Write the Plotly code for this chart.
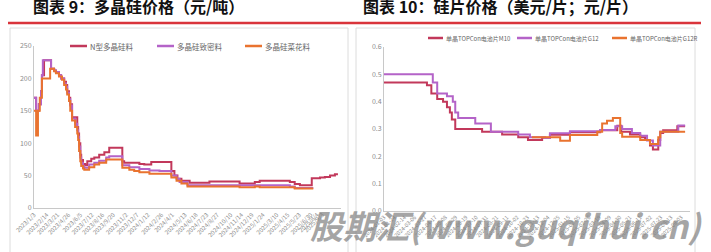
import plotly.graph_objects as go

# ---------------- Left chart: polysilicon prices ----------------
n_dates = ["2023-01-03","2023-01-10","2023-01-19","2023-01-26","2023-01-29","2023-02-05","2023-02-28",
           "2023-03-10","2023-03-16","2023-03-26","2023-04-02","2023-04-12","2023-04-18","2023-04-22",
           "2023-04-28","2023-05-02","2023-05-08","2023-05-25","2023-05-28","2023-05-31","2023-06-04",
           "2023-06-07","2023-06-13","2023-06-20","2023-06-27","2023-07-10","2023-07-20","2023-08-05",
           "2023-08-22","2023-09-07","2023-10-20","2023-10-26","2023-12-15","2023-12-31","2024-01-23",
           "2024-03-23","2024-03-29","2024-04-08","2024-04-18","2024-05-01","2024-05-28","2024-08-01",
           "2024-11-08","2024-12-28","2025-01-13","2025-04-22","2025-05-08","2025-05-25","2025-07-03",
           "2025-07-30","2025-08-15","2025-09-01","2025-09-17","2025-09-27"]
n_vals = [170,150,160,180,205,228,215,212,210,205,200,195,190,180,170,160,140,125,115,100,82,
          74,68,66,72,76,78,82,86,93,72,70,68,67,71,71,57,50,45,42,39,41,38,40,42,40,37,35,46,
          47,48,50,52,52]

dense_dates = ["2023-01-03","2023-01-10","2023-01-19","2023-01-26","2023-01-29","2023-02-01","2023-02-28",
               "2023-03-10","2023-03-16","2023-03-26","2023-04-02","2023-04-12","2023-04-18","2023-04-22",
               "2023-04-28","2023-05-02","2023-05-08","2023-05-18","2023-05-25","2023-05-28","2023-05-31",
               "2023-06-04","2023-06-07","2023-06-13","2023-06-17","2023-07-03","2023-07-20","2023-08-05",
               "2023-08-28","2023-09-07","2023-10-20","2023-11-12","2023-12-15","2024-01-17","2024-02-19",
               "2024-03-29","2024-04-15","2024-04-25","2024-05-21","2025-04-22","2025-05-08","2025-07-08"]
dense_vals = [170,150,160,180,205,228,215,212,210,205,200,192,187,178,168,158,138,130,120,110,95,
              78,70,64,62,67,70,73,78,80,66,63,60,58,57,50,45,40,35,33,31,31]

cauli_dates = ["2023-01-03","2023-01-10","2023-01-16","2023-01-22","2023-01-29","2023-02-25","2023-03-10",
               "2023-03-16","2023-03-26","2023-04-05","2023-04-12","2023-04-18","2023-04-22","2023-04-28",
               "2023-05-02","2023-05-08","2023-05-18","2023-05-25","2023-05-28","2023-05-31","2023-06-04",
               "2023-06-07","2023-06-13","2023-06-17","2023-07-03","2023-07-20","2023-08-05","2023-08-28",
               "2023-10-20","2023-11-12","2023-11-28","2023-12-15","2024-01-17","2024-03-29","2024-04-15",
               "2024-05-01","2024-05-21","2024-11-08","2024-12-28","2025-01-13","2025-05-08","2025-07-08"]
cauli_vals = [150,112,150,170,200,215,211,208,203,198,190,183,175,165,150,135,125,115,105,88,72,
              65,61,59,63,67,70,75,62,59,57,55,53,47,42,38,33,32,33,32,30,30]

left_tick_dates = ["2023-01-03","2023-02-14","2023-03-21","2023-04-26","2023-06-05","2023-07-12",
                   "2023-08-16","2023-09-20","2023-11-02","2023-12-07","2024-01-12","2024-02-26",
                   "2024-04-01","2024-05-13","2024-06-18","2024-07-23","2024-08-27","2024-10-10",
                   "2024-11-14","2024-12-19","2025-01-24","2025-03-10","2025-04-15","2025-05-23",
                   "2025-06-30","2025-07-20","2025-08-06"]
left_tick_text = ["2023/1/3","2023/2/14","2023/3/21","2023/4/26","2023/6/5","2023/7/12","2023/8/16",
                  "2023/9/20","2023/11/2","2023/12/7","2024/1/12","2024/2/26","2024/4/1","2024/5/13",
                  "2024/6/18","2024/7/23","2024/8/27","2024/10/10","2024/11/14","2024/12/19",
                  "2025/1/24","2025/3/10","2025/4/15","2025/5/23","2025/6/30","2025/8/4","2025/9/3"]

# ---------------- Right chart: cell prices ----------------
m10_dates = ["2024-01-03","2024-03-31","2024-04-09","2024-04-21","2024-05-03","2024-05-11","2024-05-17",
             "2024-05-21","2024-05-28","2024-07-22","2024-09-01","2024-10-04","2024-10-24","2024-11-22",
             "2024-12-08","2025-01-18","2025-03-21","2025-04-25","2025-05-03","2025-05-21","2025-06-11",
             "2025-06-21","2025-07-01","2025-07-07","2025-07-18","2025-07-22","2025-07-28","2025-08-26",
             "2025-09-11"]
m10_vals = [0.47,0.46,0.43,0.41,0.40,0.38,0.36,0.335,0.30,0.29,0.28,0.27,0.26,0.268,0.279,0.288,
            0.295,0.312,0.29,0.28,0.27,0.26,0.24,0.225,0.26,0.285,0.295,0.31,0.31]

g12_dates = ["2024-01-03","2024-04-12","2024-04-21","2024-05-11","2024-05-23","2024-05-28","2024-06-03",
             "2024-07-08","2024-08-09","2024-10-04","2024-10-28","2024-11-28","2024-12-08","2025-01-18",
             "2025-03-21","2025-04-21","2025-05-05","2025-05-25","2025-06-11","2025-06-25","2025-07-07",
             "2025-07-22","2025-08-28","2025-09-11"]
g12_vals = [0.50,0.47,0.43,0.42,0.40,0.36,0.34,0.32,0.29,0.28,0.27,0.267,0.284,0.292,0.296,0.31,
            0.30,0.285,0.275,0.258,0.24,0.29,0.313,0.313]

g12r_dates = ["2024-11-01","2024-12-29","2025-01-18","2025-03-15","2025-03-25","2025-04-04","2025-04-16",
              "2025-05-01","2025-05-05","2025-06-11","2025-07-01","2025-07-18","2025-07-22","2025-09-11"]
g12r_vals = [0.27,0.257,0.278,0.29,0.32,0.33,0.34,0.285,0.272,0.26,0.245,0.27,0.29,0.29]

left_names = ["N型多晶硅料", "多晶硅致密料", "多晶硅菜花料"]
right_names = ["单晶TOPCon电池片M10", "单晶TOPCon电池片G12", "单晶TOPCon电池片G12R"]

C_RED = "#C2385B"
C_PUR = "#B463C8"
C_ORA = "#E9732F"
COLORS = [C_RED, C_PUR, C_ORA]
CJK = "Noto Sans CJK SC"
GRAY = "#8C8C8C"

fig = go.Figure()
for (xs, ys, nm, c) in zip([n_dates, dense_dates, cauli_dates], [n_vals, dense_vals, cauli_vals], left_names, COLORS):
    fig.add_trace(go.Scatter(x=xs, y=ys, name=nm, mode="lines", line=dict(color=c, width=2, shape="hv"),
                             xaxis="x", yaxis="y", showlegend=False))
for (xs, ys, nm, c) in zip([m10_dates, g12_dates, g12r_dates], [m10_vals, g12_vals, g12r_vals], right_names, COLORS):
    fig.add_trace(go.Scatter(x=xs, y=ys, name=nm, mode="lines", line=dict(color=c, width=2, shape="hv"),
                             xaxis="x2", yaxis="y2", showlegend=False))

W, H = 711, 252
def px(x): return x / W
def py(y): return 1 - y / H

line_common = dict(showgrid=False, zeroline=False, showline=True, linecolor="#C8C8C8", linewidth=1, ticks="",
                   automargin=False)

fig.update_layout(
    width=W, height=H, margin=dict(l=0, r=0, t=0, b=0, autoexpand=False),
    paper_bgcolor="white", plot_bgcolor="white", showlegend=False,
    xaxis=dict(domain=[px(34), px(341)], type="date", range=["2023-01-03", "2025-10-07"],
               tickvals=left_tick_dates, ticktext=left_tick_text, tickangle=-45, anchor="y",
               tickfont=dict(family=CJK, size=6, color=GRAY), **line_common),
    yaxis=dict(domain=[py(208), py(46)], range=[0, 250], tickvals=[0, 50, 100, 150, 200, 250], anchor="x",
               tickfont=dict(family=CJK, size=7, color=GRAY), **line_common),
    xaxis2=dict(domain=[px(384), px(690)], type="date", range=["2024-01-03", "2025-09-21"],
                tick0="2024-01-03", dtick=21 * 86400000, tickformat="%Y-%m-%d", tickangle=-45, anchor="y2",
                tickfont=dict(family=CJK, size=5.5, color=GRAY), **line_common),
    yaxis2=dict(domain=[py(211), py(47)], range=[0, 0.6], tickvals=[0, 0.1, 0.2, 0.3, 0.4, 0.5, 0.6],
                tickformat=".1f", anchor="x2", tickfont=dict(family=CJK, size=7, color=GRAY), **line_common),
)

shapes = [
    dict(type="line", xref="paper", yref="paper", x0=px(8), x1=px(355), y0=py(23), y1=py(23),
         line=dict(color="#D9343B", width=2.5)),
    dict(type="line", xref="paper", yref="paper", x0=px(355), x1=px(701), y0=py(23), y1=py(23),
         line=dict(color="#D9343B", width=2.5)),
    dict(type="rect", xref="paper", yref="paper", x0=px(10), x1=px(348), y0=py(260), y1=py(28),
         line=dict(color="#DCDCDC", width=1)),
    dict(type="rect", xref="paper", yref="paper", x0=px(356), x1=px(695), y0=py(260), y1=py(28),
         line=dict(color="#DCDCDC", width=1)),
]

annotations = [
    dict(text="图表 9：多晶硅价格（元/吨）", xref="paper", yref="paper", x=px(31), y=py(6),
         xanchor="left", yanchor="middle", showarrow=False,
         font=dict(family=CJK, size=16, color="#111111", weight="bold")),
    dict(text="图表 10：硅片价格（美元/片；元/片）", xref="paper", yref="paper", x=px(361), y=py(6),
         xanchor="left", yanchor="middle", showarrow=False,
         font=dict(family=CJK, size=16, color="#111111", weight="bold")),
]

# manual legends
left_leg_x = [70, 157, 245]
for nm, c, lx in zip(left_names, COLORS, left_leg_x):
    shapes.append(dict(type="line", xref="paper", yref="paper", x0=px(lx), x1=px(lx + 17), y0=py(46), y1=py(46),
                       line=dict(color=c, width=2.5)))
    annotations.append(dict(text=nm, xref="paper", yref="paper", x=px(lx + 18), y=py(46), xanchor="left",
                            yanchor="middle", showarrow=False, font=dict(family=CJK, size=7.5, color="#666666")))
right_leg_x = [428, 517, 612]
for nm, c, lx in zip(right_names, COLORS, right_leg_x):
    shapes.append(dict(type="line", xref="paper", yref="paper", x0=px(lx), x1=px(lx + 15), y0=py(38), y1=py(38),
                       line=dict(color=c, width=2.5)))
    annotations.append(dict(text=nm, xref="paper", yref="paper", x=px(lx + 16), y=py(38), xanchor="left",
                            yanchor="middle", showarrow=False, font=dict(family=CJK, size=6, color="#666666")))

annotations.append(dict(text="股期汇(www.guqihui.cn)", xref="paper", yref="paper", x=px(506), y=py(225),
                        xanchor="center", yanchor="middle", showarrow=False,
                        font=dict(family=CJK, size=33, color="rgba(135,135,135,0.75)", weight="bold",
                                  style="italic")))

fig.update_layout(shapes=shapes, annotations=annotations)
fig.write_html("out.html")
